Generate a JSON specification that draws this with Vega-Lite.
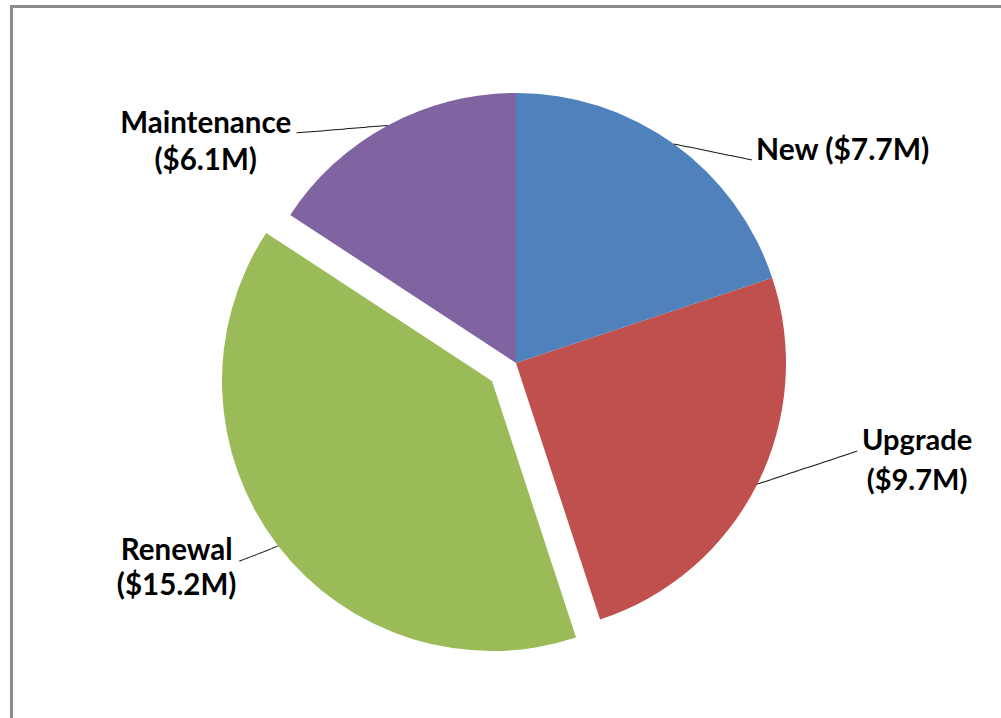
{
  "$schema": "https://vega.github.io/schema/vega-lite/v6.json",
  "width": 1009,
  "height": 713,
  "autosize": {"type": "none"},
  "padding": {"left": 11.5, "top": 6.5, "right": -19.5, "bottom": -1.5},
  "background": "white",
  "config": {"view": {"stroke": null}},
  "data": {
    "values": [
      {"category": "New", "value": 7.7, "rank": 1, "label": "New ($7.7M)"},
      {"category": "Upgrade", "value": 9.7, "rank": 2, "label": "Upgrade\n($9.7M)"},
      {"category": "Renewal", "value": 15.2, "rank": 3, "label": "Renewal\n($15.2M)"},
      {"category": "Maintenance", "value": 6.1, "rank": 4, "label": "Maintenance\n($6.1M)"}
    ]
  },
  "layer": [
    {
      "mark": {"type": "rect", "fill": "transparent", "stroke": "#8c8c8c", "strokeWidth": 3},
      "encoding": {}
    },
    {
      "encoding": {
        "theta": {"field": "value", "type": "quantitative", "stack": true},
        "order": {"field": "rank", "type": "quantitative"},
        "detail": {"field": "category", "type": "nominal"}
      },
      "layer": [
        {
          "mark": {"type": "arc", "outerRadius": 270},
          "encoding": {
            "color": {"field": "category", "type": "nominal", "legend": null,
              "scale": {"domain": ["New", "Upgrade", "Renewal", "Maintenance"], "range": ["#4F81BD", "#C0504D", "#9BBB59", "#8064A2"]}},
            "fillOpacity": {"condition": {"test": "datum.category === 'Renewal'", "value": 0}, "value": 1}
          }
        },
        {
          "mark": {"type": "arc", "outerRadius": 270, "xOffset": -24, "yOffset": 18},
          "encoding": {
            "color": {"field": "category", "type": "nominal", "legend": null,
              "scale": {"domain": ["New", "Upgrade", "Renewal", "Maintenance"], "range": ["#4F81BD", "#C0504D", "#9BBB59", "#8064A2"]}},
            "fillOpacity": {"condition": {"test": "datum.category === 'Renewal'", "value": 1}, "value": 0}
          }
        },
        {
          "mark": {"type": "text", "radius": 270, "align": "left", "baseline": "middle", "angle": 11.6, "font": "DejaVu Sans Mono", "fontSize": 12, "color": "#222222"},
          "encoding": {"text": {"condition": {"test": "datum.category === 'New'", "value": "───────────"}, "value": ""}}
        },
        {
          "mark": {"type": "text", "radius": 270, "align": "left", "baseline": "middle", "angle": 341.7, "font": "DejaVu Sans Mono", "fontSize": 12.5, "color": "#222222"},
          "encoding": {"text": {"condition": {"test": "datum.category === 'Upgrade'", "value": "──────────────"}, "value": ""}}
        },
        {
          "mark": {"type": "text", "radius": 270, "align": "left", "baseline": "middle", "angle": 158.5, "xOffset": -24, "yOffset": 18, "font": "DejaVu Sans Mono", "fontSize": 11.5, "color": "#222222"},
          "encoding": {"text": {"condition": {"test": "datum.category === 'Renewal'", "value": "──────"}, "value": ""}}
        },
        {
          "mark": {"type": "text", "radius": 270, "align": "left", "baseline": "middle", "angle": 175.3, "font": "DejaVu Sans Mono", "fontSize": 11.7, "color": "#222222"},
          "encoding": {"text": {"condition": {"test": "datum.category === 'Maintenance'", "value": "─────────────"}, "value": ""}}
        },
        {
          "mark": {"type": "text", "radius": 270, "align": "left", "baseline": "alphabetic", "dx": 82, "dy": 16, "font": "Lato", "fontWeight": "bold", "fontSize": 30, "lineHeight": 37, "lineBreak": "\n", "color": "#000000"},
          "encoding": {"text": {"condition": {"test": "datum.category === 'New'", "field": "label", "type": "nominal"}, "value": ""}}
        },
        {
          "mark": {"type": "text", "radius": 270, "align": "center", "baseline": "alphabetic", "dx": 160, "dy": -35, "font": "Lato", "fontWeight": "bold", "fontSize": 29, "lineHeight": 40, "lineBreak": "\n", "color": "#000000"},
          "encoding": {"text": {"condition": {"test": "datum.category === 'Upgrade'", "field": "label", "type": "nominal"}, "value": ""}}
        },
        {
          "mark": {"type": "text", "radius": 270, "align": "center", "baseline": "alphabetic", "xOffset": -24, "yOffset": 18, "dx": -101, "dy": 15, "font": "Lato", "fontWeight": "bold", "fontSize": 29.5, "lineHeight": 35, "lineBreak": "\n", "color": "#000000"},
          "encoding": {"text": {"condition": {"test": "datum.category === 'Renewal'", "field": "label", "type": "nominal"}, "value": ""}}
        },
        {
          "mark": {"type": "text", "radius": 270, "align": "center", "baseline": "alphabetic", "dx": -182, "dy": 7.5, "font": "Lato", "fontWeight": "bold", "fontSize": 29.5, "lineHeight": 37, "lineBreak": "\n", "color": "#000000"},
          "encoding": {"text": {"condition": {"test": "datum.category === 'Maintenance'", "field": "label", "type": "nominal"}, "value": ""}}
        }
      ]
    }
  ]
}
